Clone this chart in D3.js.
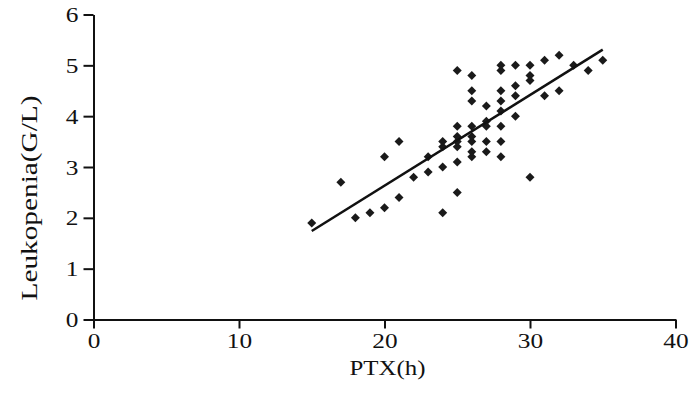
<!DOCTYPE html>
<html lang="en">
  <head>
    <meta charset="UTF-8" />
    <title>PTX vs Leukopenia</title>
    <style>
      * {
        margin: 0;
        padding: 0;
      }
      body {
        background-color: #fff;
      }
      .tick text {
        transform-box: fill-box;
        transform-origin: center;
        transform: scaleX(1.15);
      }
    </style>
  </head>
  <body>
    <script src="https://cdn.jsdelivr.net/npm/d3@7"></script>
    <script>
      // PTX (h) of each patient
      const ptx = [
        15, 17, 18, 19, 20, 20, 21, 21, 22, 23, 23,
        24, 24, 24, 24,
        25, 25, 25, 25, 25, 25, 25,
        26, 26, 26, 26, 26, 26, 26, 26,
        27, 27, 27, 27, 27,
        28, 28, 28, 28, 28, 28, 28, 28,
        29, 29, 29, 29,
        30, 30, 30, 30,
        31, 31, 32, 32, 33, 34, 35,
      ];
      // leukopenia (G/L), same order
      const leuko = [
        1.9, 2.7, 2.0, 2.1, 2.2, 3.2, 2.4, 3.5, 2.8, 2.9, 3.2,
        2.1, 3.0, 3.4, 3.5,
        2.5, 3.1, 3.4, 3.5, 3.6, 3.8, 4.9,
        3.2, 3.3, 3.5, 3.6, 3.8, 4.3, 4.5, 4.8,
        3.3, 3.5, 3.8, 3.9, 4.2,
        3.2, 3.5, 3.8, 4.1, 4.3, 4.5, 4.9, 5.0,
        4.0, 4.4, 4.6, 5.0,
        2.8, 4.7, 4.8, 5.0,
        4.4, 5.1, 4.5, 5.2, 5.0, 4.9, 5.1,
      ];
      const xTicks = [0, 10, 20, 30, 40];
      const yTicks = [0, 1, 2, 3, 4, 5, 6];
      // fitted line
      const fitIntercept = -0.9375;
      const fitSlope = 0.1785;
      const fitRange = [15, 35];

      const W = 700,
        H = 393;
      const margin = { left: 93.5, top: 14.5, right: 24.5, bottom: 73.5 };
      const font = "'Liberation Serif', 'Times New Roman', Times, serif";

      const svg = d3.select("body").append("svg").attr("width", W).attr("height", H);

      const x = d3.scaleLinear().domain([0, 40]).range([margin.left, W - margin.right]);
      const y = d3.scaleLinear().domain([0, 6]).range([H - margin.bottom, margin.top]);

      // 坐标轴
      const gx = svg
        .append("g")
        .attr("transform", `translate(0,${H - margin.bottom})`)
        .call(d3.axisBottom(x).tickValues(xTicks).tickFormat(d3.format("d")).tickSize(9).tickSizeOuter(0).tickPadding(4));
      const gy = svg
        .append("g")
        .attr("transform", `translate(${margin.left},0)`)
        .call(d3.axisLeft(y).tickValues(yTicks).tickFormat(d3.format("d")).tickSize(10).tickSizeOuter(0).tickPadding(6));

      [gx, gy].forEach((g) => {
        g.attr("font-family", font).attr("font-size", 22);
        g.select(".domain").attr("stroke", "#111").attr("stroke-width", 2);
        g.selectAll(".tick line").attr("stroke", "#111").attr("stroke-width", 2);
        g.selectAll(".tick text").attr("fill", "#111");
      });

      // 轴标题
      svg
        .append("text")
        .text("PTX(h)")
        .attr("x", (x(0) + x(40)) / 2 + 3)
        .attr("y", 375)
        .attr("text-anchor", "middle")
        .attr("font-family", font)
        .attr("font-size", 22)
        .attr("fill", "#111")
        .attr("textLength", 76)
        .attr("lengthAdjust", "spacingAndGlyphs");
      svg
        .append("text")
        .text("Leukopenia(G/L)")
        .attr("transform", "translate(37,198) rotate(-90)")
        .attr("text-anchor", "middle")
        .attr("font-family", font)
        .attr("font-size", 23)
        .attr("fill", "#111")
        .attr("textLength", 205)
        .attr("lengthAdjust", "spacingAndGlyphs");

      // 散点
      const diamond = d3.symbol().type(d3.symbolSquare).size(40);
      svg
        .append("g")
        .selectAll("path")
        .data(ptx.map((d, i) => [d, leuko[i]]))
        .join("path")
        .attr("d", diamond)
        .attr("transform", (d) => `translate(${x(d[0])},${y(d[1])}) rotate(45)`)
        .attr("fill", "#1a1a1a");

      // 回归线
      svg
        .append("line")
        .attr("x1", x(fitRange[0]))
        .attr("y1", y(fitIntercept + fitSlope * fitRange[0]))
        .attr("x2", x(fitRange[1]))
        .attr("y2", y(fitIntercept + fitSlope * fitRange[1]))
        .attr("stroke", "#111")
        .attr("stroke-width", 2.5);
    </script>
  </body>
</html>
